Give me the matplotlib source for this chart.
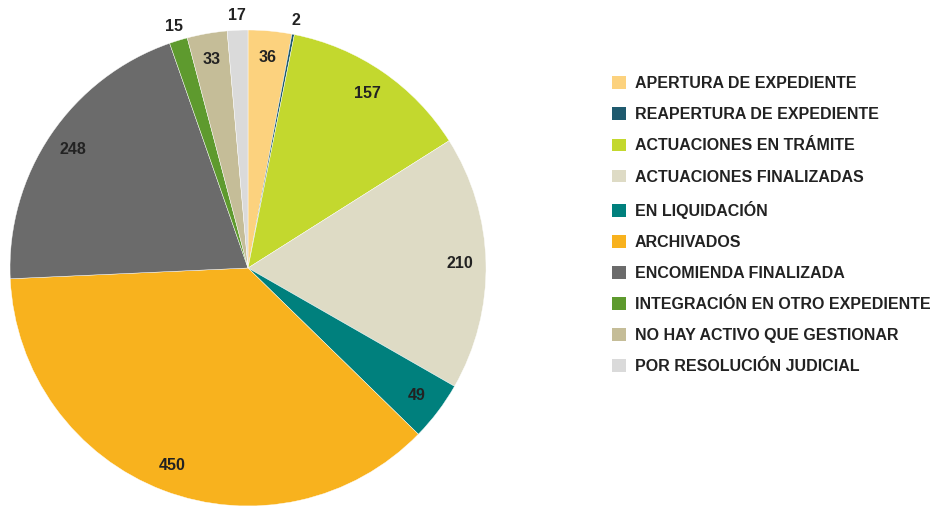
import matplotlib
matplotlib.use("Agg")
import matplotlib.pyplot as plt
import numpy as np
from matplotlib.patches import Patch

categories = ["APERTURA DE EXPEDIENTE", "REAPERTURA DE EXPEDIENTE", "ACTUACIONES EN TRÁMITE",
              "ACTUACIONES FINALIZADAS", "EN LIQUIDACIÓN", "ARCHIVADOS", "ENCOMIENDA FINALIZADA",
              "INTEGRACIÓN EN OTRO EXPEDIENTE", "NO HAY ACTIVO QUE GESTIONAR", "POR RESOLUCIÓN JUDICIAL"]
values = [36, 2, 157, 210, 49, 450, 248, 15, 33, 17]
colors = ["#FCD27E", "#1F5A6E", "#C3D82E", "#DEDBC5", "#00807D", "#F8B21E", "#6B6B6B",
          "#5E9A2E", "#C5BD98", "#DADADA"]

plt.rcParams['font.family'] = ['Liberation Sans', 'DejaVu Sans']
fig = plt.figure(figsize=(9.34, 5.11), dpi=100)
R = 238
cx, cy = 248, 268
ax = fig.add_axes([(cx - R) / 934, (511 - cy - R) / 511, 2 * R / 934, 2 * R / 511])
wedges, _ = ax.pie(values, colors=colors, startangle=90, counterclock=False, radius=1,
                   wedgeprops=dict(edgecolor="white", linewidth=0.3))
ax.set_xlim(-1, 1)
ax.set_ylim(-1, 1)
ax.set_aspect('equal')
ax.axis('off')

for w, v in zip(wedges, values):
    ang = np.deg2rad((w.theta1 + w.theta2) / 2)
    r = 0.89 if v > 30 else 1.06
    ax.text(r * np.cos(ang), r * np.sin(ang), str(v), ha='center', va='center',
            fontsize=11.5, color='#222222', fontweight='bold', clip_on=False)

handles = [Patch(facecolor=c, edgecolor='none') for c in colors]
fig.legend(handles, categories, loc='upper left', bbox_to_anchor=(609 / 934, 1 - 73 / 511),
           frameon=False, handlelength=0.85, handleheight=0.85,
           handletextpad=0.55, labelspacing=1.01, borderaxespad=0, borderpad=0.2,
           prop=dict(family=['Liberation Sans', 'DejaVu Sans'], weight='bold', size=11.5))
for t in fig.legends[0].get_texts():
    t.set_color('#222222')

fig.savefig("out.png", dpi=100)
